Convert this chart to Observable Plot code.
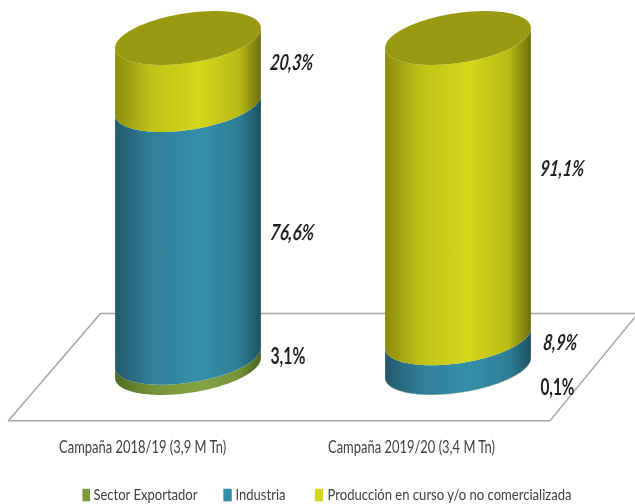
<!DOCTYPE html>
<html><head><meta charset="utf-8">
<script src="https://cdn.jsdelivr.net/npm/d3@7"></script>
<script src="https://cdn.jsdelivr.net/npm/@observablehq/plot@0.6"></script>
<style>
html,body{margin:0;padding:0;background:#fff}
#chart svg{display:block;filter:blur(0.35px)}
</style></head><body>
<div id="chart"></div>
<script>
// Data (percent of each campaign)
const campaigns = ["Campaña 2018/19 (3,9 M Tn)", "Campaña 2019/20 (3,4 M Tn)"];
const seriesNames = ["Sector Exportador", "Industria", "Producción en curso y/o no comercializada"];
const sectorExportador = [3.1, 0.1];
const industria = [76.6, 8.9];
const produccion = [20.3, 91.1];
const valueLabels = [["3,1%", "76,6%", "20,3%"], ["0,1%", "8,9%", "91,1%"]];

// Styling
const swatchColors = ["#7b9a3a", "#348da8", "#d4d618"];
const gradients = [
  ["#4f6a20", "#84a443", "#4a6420"],
  ["#22596c", "#358fa9", "#1d5161"],
  ["#8c8c0e", "#d5d71a", "#6e6e08"]
];
const lidColor = "#9a9a12";
const font = 'Lato, sans-serif';

// Layout, in scale units or pixels
const radius = 0.27, tilt = 3.0, depth = 7.6;
const thetas = d3.range(0, 121).map(i => Math.PI * i / 120);
const labelShift = [[-6, 1, -9], [20, -11, -20]];
const labelGap = [9, 9, 9];
const floorEdge = [
  {x: -0.667, y: -15.8}, {x: 1.339, y: -15.8}, {x: 1.665, y: 16.7}, {x: -0.326, y: 16.7}, {x: -0.667, y: -15.8}
];
const legendSwatchX = [[-0.391, -0.363], [0.131, 0.162], [0.470, 0.500]];
const legendTextX = [-0.352, 0.174, 0.515];
const legendSwatchY = [-36.6, -40.4];
const italicLabels = ["76,6%", "20,3%", "8,9%", "91,1%"];
const textWidths = {
  "3,1%": 35, "76,6%": 44, "20,3%": 43, "0,1%": 34, "8,9%": 34, "91,1%": 44,
  [campaigns[0]]: 167, [campaigns[1]]: 167,
  [seriesNames[0]]: 104, [seriesNames[1]]: 50, [seriesNames[2]]: 244
};

function band(i, low, high, lid) {
  return thetas.map(t => {
    const u = -Math.cos(t), s = Math.sin(t);
    return {
      x: i + u * radius,
      y1: low + tilt * u - depth * s,
      y2: lid ? high + tilt * u + depth * s : high + tilt * u - depth * s
    };
  });
}

const marks = [];
marks.push(() => {
  const defs = d3.create("svg:defs");
  gradients.forEach((g, k) => {
    const lg = defs.append("linearGradient").attr("id", "cyl" + k);
    [[0, g[0]], [0.25, d3.interpolateRgb(g[0], g[1])(0.72)], [0.58, g[1]], [0.85, d3.interpolateRgb(g[2], g[1])(0.72)], [1, g[2]]]
      .forEach(([o, c]) => lg.append("stop").attr("offset", o).attr("stop-color", c));
  });
  return defs.node();
});
marks.push(Plot.line(floorEdge, {x: "x", y: "y", fill: "#fff", stroke: "#a6a6a6", strokeWidth: 1.5}));

campaigns.forEach((name, i) => {
  const vals = [sectorExportador[i], industria[i], produccion[i]];
  const scale = 100 / d3.sum(vals);
  let c = 0;
  vals.forEach((v, k) => {
    const low = c, high = c + v * scale;
    marks.push(Plot.areaY(band(i, low, high), {x: "x", y1: "y1", y2: "y2", fill: `url(#cyl${k})`, curve: "linear"}));
    marks.push(Plot.text([valueLabels[i][k]], {
      x: [i + radius], y: [(low + high) / 2], dy: labelShift[i][k],
      dx: labelGap[k] + (i === 1 && k === 1 ? 3 : 0), text: d => d, textAnchor: "start",
      fontFamily: font, fontWeight: "bold", fontStyle: k === 0 ? "normal" : "italic",
      fontSize: 22, fill: "#1f1f1f"
    }));
    c = high;
  });
  marks.push(Plot.areaY(band(i, 100, 100, true), {x: "x", y1: "y1", y2: "y2", fill: lidColor}));
  marks.push(Plot.text([name], {
    x: [i - 0.17 - 0.004 * i], y: [-23.9], text: d => d, fontFamily: font, fontSize: 17, fill: "#404040"
  }));
});

seriesNames.forEach((name, k) => {
  marks.push(Plot.rect([name], {
    x1: [legendSwatchX[k][0]], x2: [legendSwatchX[k][1]],
    y1: [legendSwatchY[0]], y2: [legendSwatchY[1]], fill: swatchColors[k], inset: 0
  }));
  marks.push(Plot.text([name], {
    x: [legendTextX[k]], y: [-38.4], text: d => d, textAnchor: "start",
    fontFamily: font, fontSize: 16, fill: "#404040"
  }));
});

const plot = Plot.plot({
  width: 635, height: 504, margin: 0,
  style: {background: "#fff", overflow: "hidden"},
  x: {domain: [0, 1], range: [188, 458], axis: null},
  y: {domain: [0, 100], range: [368, 38], axis: null},
  marks
});
document.getElementById("chart").append(plot);
// Reference text is condensed: fit each label to its measured width
d3.select(plot).selectAll("text").each(function () {
  const label = this.textContent;
  const w = textWidths[label];
  if (w) { this.setAttribute("textLength", w); this.setAttribute("lengthAdjust", "spacingAndGlyphs"); }
  if (italicLabels.includes(label)) {
    const t = this.getAttribute("transform") || "";
    this.setAttribute("transform", t + " skewX(-7)");
  }
});
</script>
</body></html>
